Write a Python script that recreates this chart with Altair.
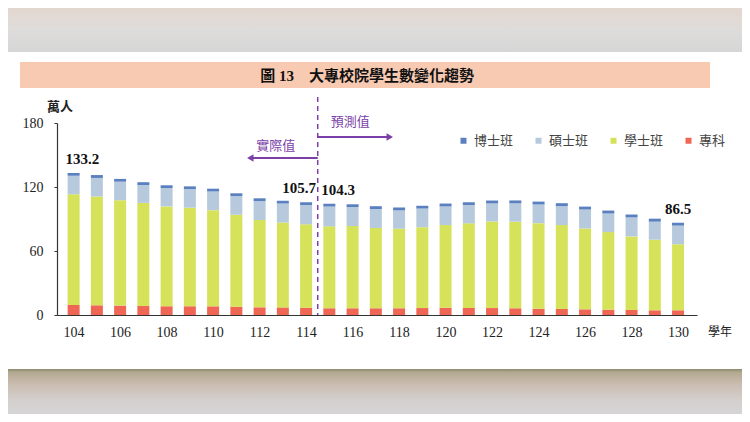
import altair as alt
import pandas as pd

# 學年 104-130, 萬人 (104-114 實際值, 115-130 預測值)
years = list(range(104, 131))
phd = [2.7, 2.7, 2.6, 2.6, 2.6, 2.6, 2.6, 2.6, 2.6, 2.6, 2.6, 2.6, 2.6, 2.6,
       2.7, 2.6, 2.7, 2.6, 2.7, 2.7, 2.7, 2.7, 2.7, 2.7, 2.7, 2.8, 2.7]
master = [17.2, 17.4, 17.4, 16.8, 17.2, 17.4, 17.5, 17.5, 17.8, 17.8, 18.1, 18.6, 17.8, 17.8,
          17.2, 17.5, 17.5, 17.2, 16.9, 17.2, 17.5, 17.8, 17.8, 17.5, 17.8, 16.9, 17.5]
bachelor = [103.9, 102.0, 98.8, 96.7, 93.6, 92.4, 90.2, 86.2, 81.8, 79.6, 78.1, 76.8, 77.1, 75.3,
            74.6, 75.8, 77.5, 79.3, 81.2, 81.2, 80.2, 78.7, 75.8, 72.7, 69.0, 66.2, 61.9]
junior = [9.4, 9.1, 8.8, 8.4, 8.2, 8.2, 8.1, 7.8, 7.2, 7.1, 6.9, 6.3, 6.3, 6.3,
          6.3, 6.5, 6.8, 6.6, 6.5, 6.3, 5.9, 5.6, 5.3, 5.0, 4.7, 4.4, 4.4]

series_names = ["博士班", "碩士班", "學士班", "專科"]
series_colors = ["#5a80c0", "#b7c9dc", "#d6e35a", "#ef6655"]
y_ticks = [0, 60, 120, 180]
x_ticks = list(range(104, 131, 2))

SERIF = "Liberation Serif, Noto Sans CJK TC"
CJK = "Noto Sans CJK TC"
PURPLE = "#7a3fa8"
SPLIT = 114.5  # boundary between 實際值 and 預測值

# long table for the stacked bars (rank 0 sits on the axis)
rows = []
stack = [("專科", junior), ("學士班", bachelor), ("碩士班", master), ("博士班", phd)]
for i, yr in enumerate(years):
    for rank, (name, vals) in enumerate(stack):
        rows.append({"year": yr, "series": name, "value": vals[i], "rank": rank})
bars_df = pd.DataFrame(rows)

totals_df = pd.DataFrame({
    "year": years,
    "total": [round(a + b + c + d, 1) for a, b, c, d in zip(phd, master, bachelor, junior)],
})

x_scale = alt.Scale(domain=[103.5, 130.6], nice=False, zero=False)
y_scale = alt.Scale(domain=[0, 180], nice=False)
one = pd.DataFrame({"year": [0]})


def band(y1, y2, stops):
    grad = alt.Gradient(
        gradient="linear", x1=0, x2=0, y1=0, y2=1,
        stops=[alt.GradientStop(color=c, offset=o) for o, c in stops],
    )
    return alt.Chart(one).mark_rect(color=grad).encode(
        x=alt.value(-49), x2=alt.value(685), y=alt.value(y1), y2=alt.value(y2)
    )


# photo edges above and below the page
top_band = band(-115, -71, [(0, "#e3d7cf"), (0.5, "#dedcdb"), (1, "#d6d6d6")])
bottom_band = band(246, 291, [(0, "#8e8c6c"), (0.08, "#b3aa92"), (0.35, "#cbbdb1"),
                              (0.7, "#d3d0cf"), (1, "#d6d5d5")])

title_bar = alt.Chart(one).mark_rect(color="#f8cab2").encode(
    x=alt.value(-37), x2=alt.value(653), y=alt.value(-61), y2=alt.value(-35)
)
title_text = alt.Chart(one).mark_text(
    text="圖 13　大專校院學生數變化趨勢", font=SERIF, fontSize=15, fontWeight="bold",
    color="#111", align="center", baseline="middle"
).encode(x=alt.value(310), y=alt.value(-47))

bars = alt.Chart(bars_df).mark_bar(size=12).encode(
    x=alt.X("year:Q", scale=x_scale, title=None,
            axis=alt.Axis(values=x_ticks, format="d", ticks=False, labelPadding=10,
                          domainColor="#333", domainWidth=1.2)),
    y=alt.Y("value:Q", stack="zero", scale=y_scale, title=None,
            axis=alt.Axis(values=y_ticks, tickSize=3, labelPadding=11,
                          domainColor="#333", domainWidth=1.2, tickColor="#333")),
    color=alt.Color("series:N",
                    scale=alt.Scale(domain=series_names, range=series_colors),
                    legend=alt.Legend(orient="none", legendX=400, legendY=11,
                                      direction="horizontal", title=None,
                                      symbolType="square", symbolSize=36,
                                      symbolStrokeWidth=0, labelFont=CJK,
                                      labelFontSize=13, labelColor="#444",
                                      labelOffset=4, columnPadding=18)),
    order=alt.Order("rank:Q"),
)


def value_label(year, align, dx):
    return alt.Chart(totals_df).transform_filter(
        alt.datum.year == year
    ).mark_text(
        font=SERIF, fontSize=15, fontWeight="bold", color="#111",
        align=align, baseline="bottom", dx=dx, dy=-6
    ).encode(
        x=alt.X("year:Q", scale=x_scale),
        y=alt.Y("total:Q", scale=y_scale),
        text=alt.Text("total:Q", format=".1f"),
    )


labels = (value_label(104, "left", -8) + value_label(114, "right", 10)
          + value_label(115, "left", -8) + value_label(130, "center", 0))

split_line = alt.Chart(pd.DataFrame({"year": [SPLIT]})).mark_rule(
    color=PURPLE, strokeDash=[5, 4], strokeWidth=1.5
).encode(x=alt.X("year:Q", scale=x_scale), y=alt.value(-26), y2=alt.value(192))


def arrow(end, ypix, shape):
    d = pd.DataFrame({"year": [SPLIT], "end": [end]})
    shaft = alt.Chart(d).mark_rule(color=PURPLE, strokeWidth=2).encode(
        x=alt.X("year:Q", scale=x_scale), x2="end:Q", y=alt.value(ypix)
    )
    head = alt.Chart(d).mark_point(
        shape=shape, filled=True, size=55, color=PURPLE, opacity=1
    ).encode(x=alt.X("end:Q", scale=x_scale), y=alt.value(ypix))
    return shaft + head


def note(year, ypix, text):
    return alt.Chart(pd.DataFrame({"year": [year]})).mark_text(
        text=text, font=CJK, fontSize=13, color=PURPLE, align="center", baseline="middle"
    ).encode(x=alt.X("year:Q", scale=x_scale), y=alt.value(ypix))


unit_text = alt.Chart(one).mark_text(
    text="萬人", font=CJK, fontSize=13, fontWeight="bold", color="#222",
    align="center", baseline="middle"
).encode(x=alt.value(3), y=alt.value(-16))
year_text = alt.Chart(one).mark_text(
    text="學年", font=CJK, fontSize=12, color="#222", align="center", baseline="middle"
).encode(x=alt.value(663), y=alt.value(209))

chart = alt.layer(
    top_band, bottom_band, title_bar, title_text,
    bars, labels, split_line,
    arrow(117.6, 14, "triangle-right"), arrow(111.6, 35, "triangle-left"),
    note(115.9, -1, "預測值"), note(112.7, 23, "實際值"),
    unit_text, year_text,
).properties(
    width=640, height=192, autosize="none",
    padding={"left": 49, "top": 115, "right": 45, "bottom": 99},
).configure_view(
    stroke=None
).configure_axis(
    grid=False, labelFont=SERIF, labelFontSize=14, labelColor="#222"
)

chart.save("out.html", embed_options={"renderer": "svg", "actions": False})
